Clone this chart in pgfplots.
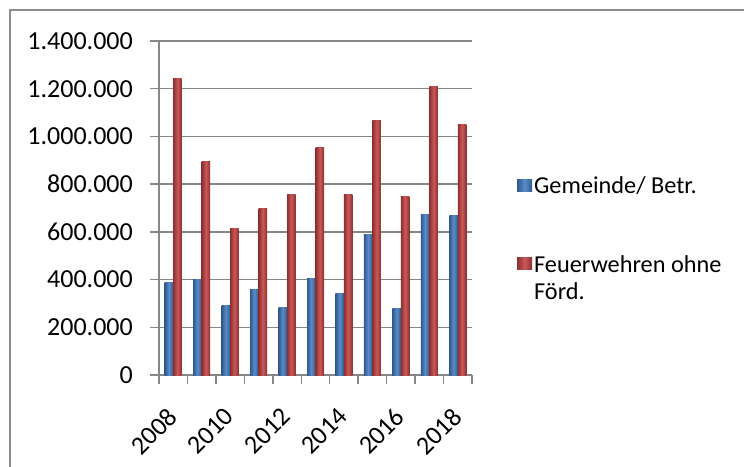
\documentclass[border=0pt]{standalone}
\usepackage{fontspec}
\setmainfont{Carlito}
\usepackage{pgfplots}
\pgfplotsset{compat=1.18}
\definecolor{gridgray}{HTML}{868686}
\definecolor{framegray}{HTML}{8C8C8C}
\definecolor{bdark}{HTML}{2E5A8E}
\definecolor{blight}{HTML}{5B8CC8}
\definecolor{rdark}{HTML}{8E302E}
\definecolor{rlight}{HTML}{C9585A}
\pgfplotsset{
  bluebar/.style={ybar, bar width=8.5pt, bar shift=-4.25pt, draw=none,
    left color=bdark, right color=bdark, middle color=blight},
  redbar/.style={ybar, bar width=8.5pt, bar shift=4.25pt, draw=none,
    left color=rdark, right color=rdark, middle color=rlight},
}
\newcommand\bb[2]{\addplot[bluebar, forget plot] coordinates {(#1,#2)};}
\newcommand\rb[2]{\addplot[redbar, forget plot] coordinates {(#1,#2)};}
\begin{document}
\begin{tikzpicture}
\begin{axis}[
  at={(159pt,91pt)}, anchor=south west,
  scale only axis, width=313pt, height=334pt,
  xmin=-0.5, xmax=10.5, ymin=0, ymax=1400000,
  axis x line*=bottom, axis y line*=left,
  axis line style={draw=gridgray, line width=1.4pt},
  xtick={-0.5,0.5,...,10.5}, xticklabels={},
  extra x ticks={0,2,4,6,8,10},
  extra x tick labels={2008,2010,2012,2014,2016,2018},
  extra x tick style={major tick length=0pt,
    xticklabel style={xshift=-7pt, yshift=-31pt, rotate=45, anchor=north east, inner sep=0pt}},
  scaled y ticks=false,
  ytick={0,200000,400000,600000,800000,1000000,1200000,1400000},
  yticklabels={0,200.000,400.000,600.000,800.000,1.000.000,1.200.000,1.400.000},
  yticklabel style={anchor=east, inner sep=0pt, xshift=-17pt},
  ymajorgrids, major grid style={draw=gridgray, line width=1.4pt},
  tick align=outside, major tick length=9pt,
  tick style={draw=gridgray, line width=1.4pt},
  ticklabel style={font=\fontsize{26}{31}\selectfont},
  legend image code/.code={\path[#1] (-3pt,2.5pt) rectangle (12pt,14.5pt);},
  legend style={draw=none, fill=none, at={(axis description cs:1.1436,0.6)},
    anchor=north west, font=\fontsize{24.3}{27}\selectfont, row sep=54pt,
    cells={anchor=base west}, inner sep=0pt},
]
% Gemeinde/ Betr.
\bb{0}{387000}\bb{1}{400000}\bb{2}{290000}\bb{3}{360000}\bb{4}{282000}\bb{5}{405000}
\bb{6}{340000}\bb{7}{589000}\bb{8}{278000}\bb{9}{674000}\bb{10}{668000}
% Feuerwehren ohne Förd.
\rb{0}{1242000}\rb{1}{897000}\rb{2}{613000}\rb{3}{698000}\rb{4}{756000}\rb{5}{953000}
\rb{6}{755000}\rb{7}{1068000}\rb{8}{749000}\rb{9}{1210000}\rb{10}{1052000}
\addlegendimage{bluebar}
\addlegendentry{Gemeinde/ Betr.}
\addlegendimage{redbar}
\addlegendentry{\begin{tabular}[t]{@{}l@{}}Feuerwehren ohne\\Förd.\end{tabular}}
\end{axis}
\draw[framegray, line width=2pt] (9.5pt,-5pt) -- (9.5pt,455.5pt) -- (750pt,455.5pt);
\pgfresetboundingbox
\path[use as bounding box] (0,0) rectangle (744pt,466pt);
\end{tikzpicture}
\end{document}
